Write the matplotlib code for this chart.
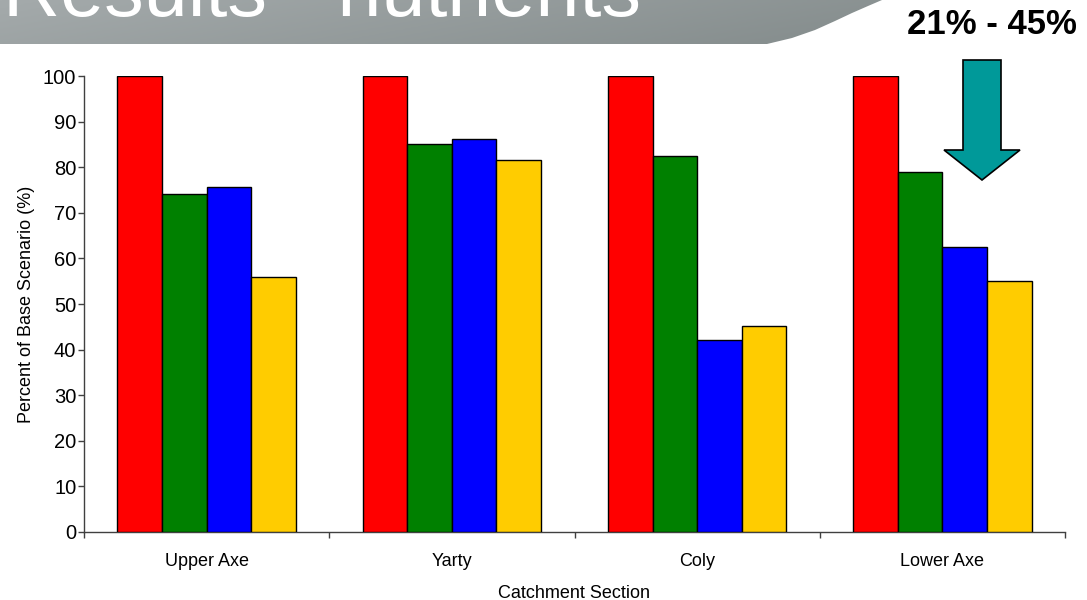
import numpy as np
import matplotlib
matplotlib.use("Agg")
import matplotlib.pyplot as plt
from matplotlib.patches import Polygon

plt.rcParams['font.family'] = ['Liberation Sans', 'DejaVu Sans']

# ---- data ----
categories = ["Upper Axe", "Yarty", "Coly", "Lower Axe"]
scenario_1 = [100, 100, 100, 100]
scenario_2 = [74.2, 85.2, 82.4, 78.9]
scenario_3 = [75.8, 86.3, 42.1, 62.6]
scenario_4 = [55.9, 81.7, 45.2, 55.0]
series_colors = ["#ff0000", "#008000", "#0000ff", "#ffcc00"]
y_ticks = [0, 10, 20, 30, 40, 50, 60, 70, 80, 90, 100]
title_text = "Results - nutrients"
range_text = "21% - 45%"

W, H = 1087, 600
fig = plt.figure(figsize=(W / 100, H / 100), dpi=100)
fig.patch.set_facecolor("white")

# ---- background banner ----
ax_bg = fig.add_axes([0, 0, 1, 1], zorder=0)
ax_bg.set_xlim(0, W)
ax_bg.set_ylim(H, 0)
ax_bg.axis("off")
banner_pts = [(0, 0), (882, 0), (868, 6), (852, 13), (835, 21), (815, 30),
              (792, 38), (767, 44), (0, 44)]
banner = Polygon(banner_pts, closed=True, facecolor="none", edgecolor="none")
ax_bg.add_patch(banner)
gx = np.linspace(0, 1, 256)
gy = np.linspace(0, 1, 16)
G = gx[None, :] * 0.8 + gy[:, None] * 0.2
c0 = np.array([0xa4, 0xaa, 0xab]) / 255
c1 = np.array([0x84, 0x8c, 0x8c]) / 255
img = c0[None, None, :] * (1 - G[:, :, None]) + c1[None, None, :] * G[:, :, None]
im = ax_bg.imshow(img, extent=(0, 882, 44, 0), aspect="auto", zorder=1)
im.set_clip_path(banner)
ax_bg.text(3, 16, title_text, color="white", fontsize=57, ha="left",
           va="baseline", zorder=2)

# ---- main chart ----
ax = fig.add_axes([84 / W, 1 - 531.7 / H, (1065 - 84) / W, (531.7 - 76.3) / H], zorder=2)
series = [scenario_1, scenario_2, scenario_3, scenario_4]
n = len(categories)
bw = 0.1818
x = np.arange(n) + 0.5
for j, (vals, col) in enumerate(zip(series, series_colors)):
    ax.bar(x + (j - 1.5) * bw, vals, width=bw, color=col, edgecolor="black",
           linewidth=1.0, zorder=3)

ax.set_xlim(0, n)
ax.set_ylim(0, 100)
ax.set_yticks(y_ticks)
ax.set_xticks(np.arange(n + 1))
ax.set_xticklabels([])
ax.set_xticks(x, minor=True)
ax.set_xticklabels(categories, minor=True)
ax.tick_params(axis="x", which="major", direction="out", length=4.5, width=1, color="#404040")
ax.tick_params(axis="x", which="minor", length=0, pad=15, labelsize=13)
ax.tick_params(axis="y", direction="out", length=4.5, width=1, color="#404040",
               pad=1, labelsize=14.5)
for s in ["top", "right"]:
    ax.spines[s].set_visible(False)
for s in ["left", "bottom"]:
    ax.spines[s].set_color("#404040")
    ax.spines[s].set_linewidth(1.0)
ax.set_ylabel("Percent of Base Scenario (%)", fontsize=13, labelpad=6)
ax.set_xlabel("Catchment Section", fontsize=13, labelpad=11)

# ---- overlay: arrow and range text ----
ax_ov = fig.add_axes([0, 0, 1, 1], zorder=4)
ax_ov.set_xlim(0, W)
ax_ov.set_ylim(H, 0)
ax_ov.axis("off")
ax_ov.patch.set_alpha(0)
arrow_pts = [(963, 60), (1001, 60), (1001, 150), (1020, 150), (982, 180),
             (944, 150), (963, 150)]
ax_ov.add_patch(Polygon(arrow_pts, closed=True, facecolor="#009999",
                        edgecolor="black", linewidth=1.2, joinstyle="miter"))
ax_ov.text(992, 25, range_text, fontsize=25, fontweight="bold", ha="center",
           va="center", color="black")

fig.savefig("out.png", dpi=100)
